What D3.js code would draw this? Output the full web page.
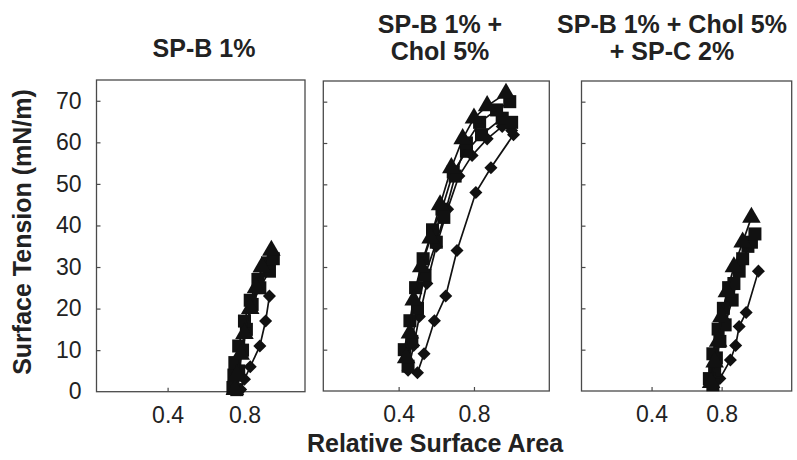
<!DOCTYPE html>
<html lang="en">
<head>
<meta charset="UTF-8">
<title>Surface Tension vs Relative Surface Area</title>
<script src="https://cdn.jsdelivr.net/npm/d3@7"></script>
<style>
  body { margin: 0; background: #fff; }
  text { font-family: "Liberation Sans", Arial, sans-serif; fill: #222; }
  .frame { fill: none; stroke: #4a4a4a; stroke-width: 1.3; }
  .tick line { stroke: #4a4a4a; stroke-width: 1.2; }
  .curve { fill: none; stroke: #111; stroke-width: 1.7; }
  .mark { fill: #111; }
</style>
</head>
<body>
<svg id="chart" width="797" height="460"></svg>
<script>
// panel titles
const titles = [['SP-B 1%'], ['SP-B 1% +', 'Chol 5%'], ['SP-B 1% + Chol 5%', '+ SP-C 2%']]
const yTicks = [10, 20, 30, 40, 50, 60, 70]
const xTicks = [0.4, 0.8]

// SP-B 1%   [relative area, surface tension]
const b_tri = [[0.75, 0.5], [0.76, 4], [0.78, 9], [0.80, 14], [0.83, 20], [0.86, 25], [0.89, 30], [0.94, 34]]
const b_sq1 = [[0.74, 1], [0.745, 4], [0.75, 7], [0.77, 11], [0.80, 17], [0.83, 22], [0.87, 27], [0.92, 31], [0.95, 32]]
const b_sq2 = [[0.76, 0.5], [0.77, 5], [0.79, 10], [0.81, 15], [0.84, 21], [0.88, 25], [0.93, 29]]
const b_dia = [[0.78, 0.5], [0.80, 3], [0.83, 6], [0.88, 11], [0.91, 17], [0.93, 23]]

// SP-B 1% + Chol 5%
const c_tri = [[0.44, 8], [0.46, 14], [0.48, 22], [0.52, 30], [0.57, 37], [0.62, 45], [0.68, 54], [0.74, 61], [0.80, 66], [0.87, 69], [0.97, 72]]
const c_sq1 = [[0.45, 6], [0.47, 12], [0.50, 20], [0.54, 28], [0.60, 36], [0.64, 42], [0.70, 52], [0.76, 60], [0.83, 65], [0.92, 68], [0.99, 70]]
const c_sq2 = [[0.43, 10], [0.46, 17], [0.49, 25], [0.53, 32], [0.58, 39], [0.63, 44], [0.69, 53], [0.76, 58], [0.84, 62], [0.95, 66], [1.00, 65]]
const c_dia1 = [[0.45, 5], [0.48, 11], [0.51, 18], [0.55, 26], [0.60, 35], [0.66, 44], [0.72, 52], [0.79, 57], [0.87, 61], [0.95, 64], [1.00, 63]]
const c_dia2 = [[0.50, 4.4], [0.535, 9], [0.59, 17], [0.65, 23], [0.71, 34], [0.81, 48], [0.89, 54], [1.01, 62]]

// SP-B 1% + Chol 5% + SP-C 2%
const s_tri = [[0.74, 2], [0.76, 7], [0.78, 12], [0.80, 18], [0.83, 24], [0.87, 30], [0.92, 36], [0.97, 42]]
const s_sq1 = [[0.73, 3], [0.75, 9], [0.78, 15], [0.81, 20], [0.84, 25], [0.87, 26], [0.92, 32], [0.97, 36], [0.99, 38]]
const s_sq2 = [[0.75, 1.5], [0.76, 5], [0.77, 8], [0.79, 12], [0.82, 16], [0.86, 22], [0.90, 29], [0.95, 35]]
const s_dia = [[0.79, 3], [0.85, 7.5], [0.88, 11], [0.90, 15.6], [0.94, 19], [1.01, 29]]

const panels = [
  { box: [96.5, 80, 305, 391.7], xDom: [0.03, 1.115], labels: true,
    series: [[b_sq2, 'sq'], [b_dia, 'dia'], [b_sq1, 'sq'], [b_tri, 'tri']], title: [204, 57] },
  { box: [323.3, 81, 549.3, 391], xDom: [0, 1.2], labels: false,
    series: [[c_dia2, 'dia'], [c_dia1, 'dia'], [c_sq2, 'sq'], [c_sq1, 'sq'], [c_tri, 'tri']], title: [440, 33] },
  { box: [581.5, 81, 791.7, 391], xDom: [0, 1.2], labels: false,
    series: [[s_dia, 'dia'], [s_sq2, 'sq'], [s_sq1, 'sq'], [s_tri, 'tri']], title: [672, 33] }
]

const svg = d3.select('#chart')

const symbols = {
  sq: d3.symbol().type(d3.symbolSquare).size(170),
  dia: d3.symbol().type(d3.symbolSquare).size(85),
  tri: d3.symbol().type(d3.symbolTriangle).size(150)
}

panels.forEach((p, i) => {
  const [x0, y0, x1, y1] = p.box
  const x = d3.scaleLinear().domain(p.xDom).range([x0, x1])
  const y = d3.scaleLinear().domain([0, 75]).range([y1, y0])

  svg.append('rect').attr('class', 'frame')
    .attr('x', x0).attr('y', y0).attr('width', x1 - x0).attr('height', y1 - y0)

  const yAxis = d3.axisLeft(y).tickValues(yTicks).tickSizeInner(-4).tickSizeOuter(0).tickPadding(15)
  const xAxis = d3.axisBottom(x).tickValues(xTicks).tickSizeInner(-4).tickSizeOuter(0).tickPadding(15)

  const gy = svg.append('g').attr('transform', `translate(${x0},0)`).call(yAxis)
  if (p.labels) {
    gy.append('g').attr('class', 'tick').attr('opacity', 1)
      .attr('transform', `translate(0,${y(0)})`)
      .append('text').attr('x', -15).attr('dy', '0.32em').attr('text-anchor', 'end').text('0')
  } else {
    gy.selectAll('text').remove()
  }
  gy.select('.domain').remove()
  gy.selectAll('text').attr('fill', '#222').style('font-size', '23px')

  const gx = svg.append('g').attr('transform', `translate(0,${y1})`).call(xAxis)
  gx.select('.domain').remove()
  gx.selectAll('text').attr('fill', '#222').style('font-size', '23px')

  const line = d3.line().x(d => x(d[0])).y(d => y(d[1]))

  p.series.forEach(([data, shape]) => {
    svg.append('path').datum(data).attr('class', 'curve').attr('d', line)
    svg.selectAll(null).data(data).enter().append('path')
      .attr('class', 'mark')
      .attr('d', symbols[shape])
      .attr('transform', d => `translate(${x(d[0])},${y(d[1])})` + (shape === 'dia' ? ' rotate(45)' : ''))
  })

  const t = svg.append('text')
    .attr('x', p.title[0]).attr('y', p.title[1])
    .attr('text-anchor', 'middle')
    .style('font-size', '25px').style('font-weight', 'bold')
  titles[i].forEach((s, k) => {
    t.append('tspan').attr('x', p.title[0]).attr('dy', k === 0 ? 0 : 27).text(s)
  })
})

svg.append('text')
  .attr('x', 435).attr('y', 452)
  .attr('text-anchor', 'middle')
  .style('font-size', '25px').style('font-weight', 'bold')
  .text('Relative Surface Area')

svg.append('text')
  .attr('transform', 'translate(31,232) rotate(-90)')
  .attr('text-anchor', 'middle')
  .style('font-size', '25px').style('font-weight', 'bold')
  .text('Surface Tension (mN/m)')
</script>
</body>
</html>
